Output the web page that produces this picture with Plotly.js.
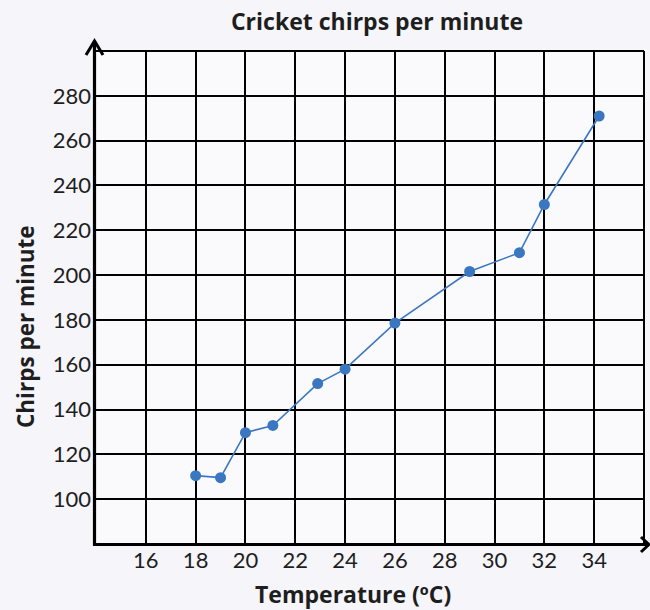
<!DOCTYPE html>
<html>
<head>
<meta charset="utf-8">
<script src="https://cdn.plot.ly/plotly-3.0.1.min.js"></script>
<style>html,body{margin:0;padding:0;background:#f5f5fa;}#chart{width:650px;height:610px;}</style>
</head>
<body>
<div id="chart"></div>
<script>
// ---- data ----
const chartTitle = "Cricket chirps per minute";
const xTitle = "Temperature (ºC)";
const yTitle = "Chirps per minute";
const temperature = [18, 19, 20, 21.1, 22.9, 24, 26, 29, 31, 32, 34.2];
const chirps = [110.5, 109.6, 129.7, 132.9, 151.6, 158, 178.6, 201.6, 210, 231.5, 271];
const xTicks = [16, 18, 20, 22, 24, 26, 28, 30, 32, 34];
const yTicks = [100, 120, 140, 160, 180, 200, 220, 240, 260, 280];
const xRange = [14, 36];
const yRange = [80, 300];

// ---- layout geometry ----
const W = 650, H = 610;
const M = {l: 96, r: 6, t: 51, b: 66};
const PW = W - M.l - M.r, PH = H - M.t - M.b;
const px = x => (x - M.l) / PW;          // pixel -> paper x
const py = y => (H - M.b - y) / PH;      // pixel -> paper y

const font = "Lato, 'Noto Sans', sans-serif";
const titleFont = "'Open Sans', 'Noto Sans', sans-serif";
const ink = "#1e1e1e";
const blue = "#3b77c1";

const trace = {
  x: temperature, y: chirps,
  type: "scatter", mode: "lines+markers",
  line: {color: blue, width: 1.6},
  marker: {color: blue, size: 11},
  hoverinfo: "x+y", showlegend: false, cliponaxis: false
};

const shapes = [
  // top & right border of grid
  {type: "line", xref: "paper", yref: "paper", x0: 0, x1: 1, y0: 1, y1: 1, line: {color: "#000", width: 2}},
  {type: "line", xref: "paper", yref: "paper", x0: 1, x1: 1, y0: 0, y1: 1, line: {color: "#000", width: 2}},
  // y axis extension + arrow
  {type: "path", xref: "paper", yref: "paper",
   path: `M ${px(94.5)},${py(546)} L ${px(94.5)},${py(41)}`, line: {color: "#000", width: 3.2}},
  {type: "path", xref: "paper", yref: "paper",
   path: `M ${px(86)},${py(55)} L ${px(94.5)},${py(41)} L ${px(103)},${py(55)}`, line: {color: "#000", width: 3}},
  // x axis extension + arrow
  {type: "path", xref: "paper", yref: "paper",
   path: `M ${px(93)},${py(544.5)} L ${px(648)},${py(544.5)}`, line: {color: "#000", width: 3.2}},
  {type: "path", xref: "paper", yref: "paper",
   path: `M ${px(641)},${py(537)} L ${px(649)},${py(544.5)} L ${px(641)},${py(552)}`, line: {color: "#000", width: 3}}
];

const annotations = [
  {text: xTitle, xref: "paper", yref: "paper", x: px(353), y: py(594), xanchor: "center", yanchor: "middle",
   showarrow: false, font: {family: titleFont, size: 23, color: ink, weight: 700}},
  {text: yTitle, xref: "paper", yref: "paper", x: px(25), y: py(327), xanchor: "center", yanchor: "middle",
   textangle: -90, showarrow: false, font: {family: titleFont, size: 22.5, color: ink, weight: 700}}
];

const layout = {
  width: W, height: H,
  margin: M,
  paper_bgcolor: "#f5f5fa",
  plot_bgcolor: "#fafafd",
  title: {text: chartTitle, xref: "container", yref: "container", x: 377 / W, y: 1 - 22 / H,
          xanchor: "center", yanchor: "middle", font: {family: titleFont, size: 23, color: ink, weight: 700}},
  xaxis: {range: xRange, tickvals: xTicks, ticktext: xTicks.map(String),
          showgrid: true, gridcolor: "#000", gridwidth: 2, zeroline: false,
          showline: false, ticks: "", ticklabelstandoff: 1,
          tickfont: {family: font, size: 22, color: ink}, fixedrange: true},
  yaxis: {range: yRange, tickvals: yTicks, ticktext: yTicks.map(String),
          showgrid: true, gridcolor: "#000", gridwidth: 2, zeroline: false,
          showline: false, ticks: "", ticklabelstandoff: 4,
          tickfont: {family: font, size: 22, color: ink}, fixedrange: true},
  shapes: shapes,
  annotations: annotations,
  hovermode: false
};

Plotly.newPlot("chart", [trace], layout, {displayModeBar: false, staticPlot: true});
</script>
</body>
</html>
